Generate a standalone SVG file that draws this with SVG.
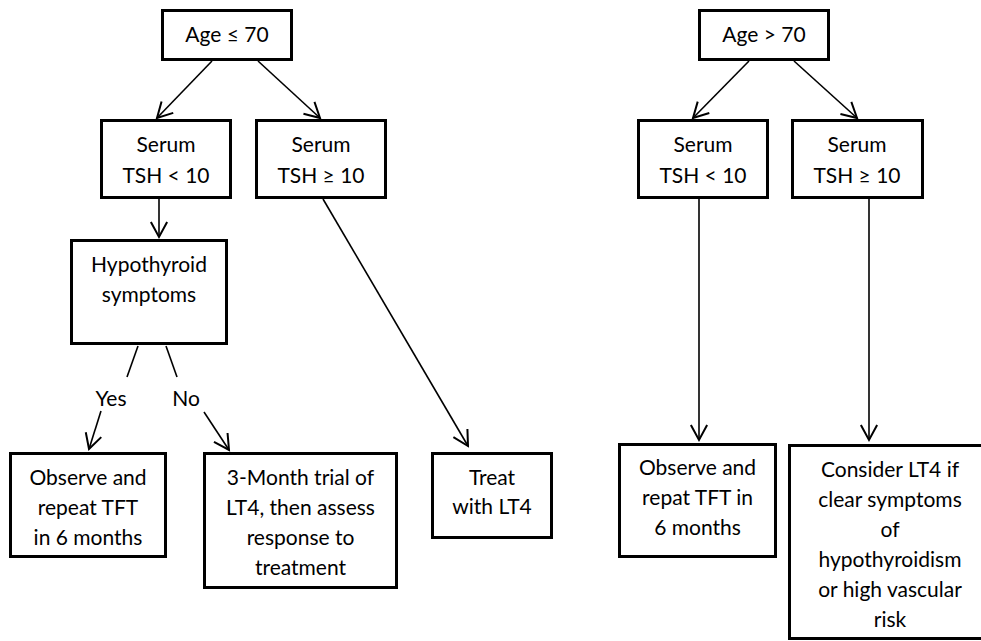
<svg xmlns="http://www.w3.org/2000/svg" width="981" height="641" viewBox="0 0 981 641">
<style>
.box{fill:#fff;stroke:#000;stroke-width:3}
.t{font-family:Lato,"Liberation Sans",sans-serif;font-size:21px;fill:#000;text-anchor:middle}
.c{stroke:#000;stroke-width:1.6;fill:none}
</style>
<defs>
<marker id="a" markerUnits="userSpaceOnUse" markerWidth="20" markerHeight="20" viewBox="-14 -8 16 16" refX="0" refY="0" orient="auto">
<path d="M-12,-6.5 L0,0 L-12,6.5" fill="none" stroke="#000" stroke-width="1.6"/>
</marker>
</defs>
<rect width="981" height="641" fill="#fff"/>
<g id="connectors">
<line class="c" x1="212" y1="61" x2="157" y2="118" marker-end="url(#a)"/>
<line class="c" x1="258" y1="61" x2="320" y2="118" marker-end="url(#a)"/>
<line class="c" x1="159" y1="199" x2="159" y2="237" marker-end="url(#a)"/>
<line class="c" x1="323" y1="199" x2="468" y2="446" marker-end="url(#a)"/>
<line class="c" x1="138" y1="346" x2="127" y2="377"/>
<line class="c" x1="166" y1="346" x2="177" y2="377"/>
<line class="c" x1="101" y1="411" x2="89" y2="449" marker-end="url(#a)"/>
<line class="c" x1="204" y1="412" x2="229" y2="450" marker-end="url(#a)"/>
<line class="c" x1="749" y1="61" x2="693" y2="118" marker-end="url(#a)"/>
<line class="c" x1="794" y1="61" x2="857" y2="118" marker-end="url(#a)"/>
<line class="c" x1="699" y1="199" x2="699" y2="440" marker-end="url(#a)"/>
<line class="c" x1="869" y1="199" x2="869" y2="440" marker-end="url(#a)"/>
<text class="t" x="111" y="406">Yes</text>
<text class="t" x="186" y="406">No</text>
</g>
<g id="n_age_le70">
<rect class="box" x="162.5" y="10.5" width="129" height="49"/>
<text class="t" x="227" y="42">Age ≤ 70</text>
</g>
<g id="n_tsh_lt10_left">
<rect class="box" x="101.5" y="120.5" width="129" height="77"/>
<text class="t" x="166" y="152">Serum</text>
<text class="t" x="166" y="183">TSH &lt; 10</text>
</g>
<g id="n_tsh_ge10_left">
<rect class="box" x="256.5" y="120.5" width="129" height="77"/>
<text class="t" x="321" y="152">Serum</text>
<text class="t" x="321" y="183">TSH ≥ 10</text>
</g>
<g id="n_hypo">
<rect class="box" x="71.5" y="240.5" width="155" height="103"/>
<text class="t" x="149" y="272">Hypothyroid</text>
<text class="t" x="149" y="302">symptoms</text>
</g>
<g id="n_observe_left">
<rect class="box" x="10.5" y="453.5" width="155" height="103"/>
<text class="t" x="88" y="485">Observe and</text>
<text class="t" x="88" y="515">repeat TFT</text>
<text class="t" x="88" y="545">in 6 months</text>
</g>
<g id="n_trial">
<rect class="box" x="204.5" y="453.5" width="192" height="134"/>
<text class="t" x="300.5" y="485">3-Month trial of</text>
<text class="t" x="300.5" y="515">LT4, then assess</text>
<text class="t" x="300.5" y="545">response to</text>
<text class="t" x="300.5" y="575">treatment</text>
</g>
<g id="n_treat">
<rect class="box" x="432.5" y="453.5" width="119" height="84"/>
<text class="t" x="492" y="485">Treat</text>
<text class="t" x="492" y="514">with LT4</text>
</g>
<g id="n_age_gt70">
<rect class="box" x="699.5" y="10.5" width="129" height="49"/>
<text class="t" x="764" y="42">Age &gt; 70</text>
</g>
<g id="n_tsh_lt10_right">
<rect class="box" x="638.5" y="120.5" width="129" height="77"/>
<text class="t" x="703" y="152">Serum</text>
<text class="t" x="703" y="183">TSH &lt; 10</text>
</g>
<g id="n_tsh_ge10_right">
<rect class="box" x="792.5" y="120.5" width="130" height="77"/>
<text class="t" x="857" y="152">Serum</text>
<text class="t" x="857" y="183">TSH ≥ 10</text>
</g>
<g id="n_observe_right">
<rect class="box" x="619.5" y="444.5" width="156" height="112"/>
<text class="t" x="697.5" y="475">Observe and</text>
<text class="t" x="697.5" y="505">repat TFT in</text>
<text class="t" x="697.5" y="535">6 months</text>
</g>
<g id="n_consider">
<rect class="box" x="789.5" y="445.5" width="210" height="193"/>
<text class="t" x="890" y="477">Consider LT4 if</text>
<text class="t" x="890" y="507">clear symptoms</text>
<text class="t" x="890" y="537">of</text>
<text class="t" x="890" y="567">hypothyroidism</text>
<text class="t" x="890" y="597">or high vascular</text>
<text class="t" x="890" y="627">risk</text>
</g>
</svg>
